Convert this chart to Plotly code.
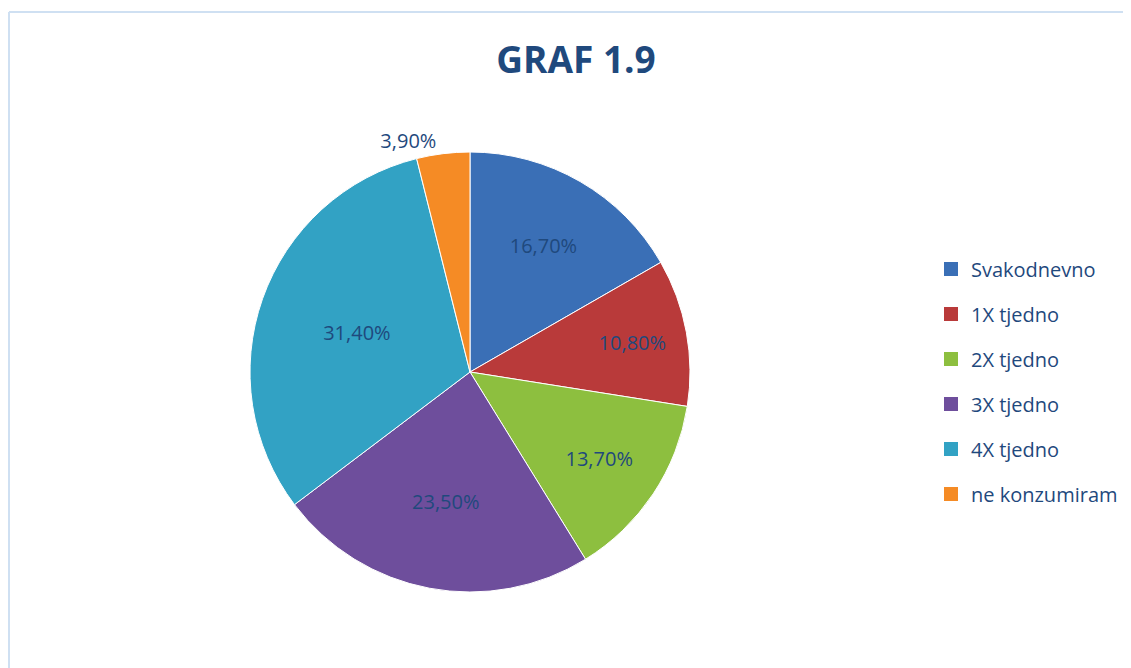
import plotly.graph_objects as go

categories = ["Svakodnevno", "1X tjedno", "2X tjedno", "3X tjedno", "4X tjedno", "ne konzumiram"]
values = [16.7, 10.8, 13.7, 23.5, 31.4, 3.9]
value_labels = ["16,70%", "10,80%", "13,70%", "23,50%", "31,40%", "3,90%"]
colors = ["#3A6FB6", "#B93A3A", "#8DBF3F", "#6E4E9C", "#32A2C4", "#F58B25"]

text_color = "#1F497D"
W, H = 1131, 668

fig = go.Figure()

fig.add_trace(go.Pie(
    labels=categories,
    values=values,
    text=value_labels,
    textinfo="text",
    textposition=["inside", "inside", "inside", "inside", "inside", "outside"],
    insidetextorientation="horizontal",
    textfont=dict(family="Open Sans", size=20, color=text_color),
    outsidetextfont=dict(family="Open Sans", size=20, color=text_color),
    insidetextfont=dict(family="Open Sans", size=20, color=text_color),
    marker=dict(colors=colors, line=dict(color="white", width=1)),
    sort=False,
    direction="clockwise",
    rotation=0,
    domain=dict(x=[242 / W, 682 / W], y=[1 - 584 / H, 1 - 144 / H]),
    showlegend=False,
    hoverinfo="label+text",
))

# legend entries (one per category) so spacing matches the reference legend
for name, col in zip(categories, colors):
    fig.add_trace(go.Scatter(
        x=[None], y=[None],
        mode="markers",
        name=name,
        legendgroup=name,
        marker=dict(symbol="square", size=14, color=col),
        showlegend=True,
        hoverinfo="skip",
    ))

fig.update_layout(
    width=W,
    height=H,
    paper_bgcolor="white",
    plot_bgcolor="white",
    margin=dict(l=0, r=0, t=0, b=0, autoexpand=False),
    xaxis=dict(visible=False, range=[0, 1]),
    yaxis=dict(visible=False, range=[0, 1]),
    title=dict(
        text="<b>GRAF 1.9</b>",
        x=568 / W, xanchor="center",
        y=1 - 52 / H, yanchor="middle",
        font=dict(family="Open Sans", size=37, color=text_color),
    ),
    legend=dict(
        x=923 / W, xanchor="left",
        y=1 - 373.5 / H, yanchor="middle",
        font=dict(family="Open Sans", size=20, color=text_color),
        tracegroupgap=16,
        itemwidth=30,
        bgcolor="rgba(0,0,0,0)",
    ),
    shapes=[
        dict(type="line", xref="paper", yref="paper", x0=1 / W, x1=1.0, y0=1 - 4 / H, y1=1 - 4 / H,
             line=dict(color="#CFE0F2", width=2)),
        dict(type="line", xref="paper", yref="paper", x0=1 / W, x1=1 / W, y0=1 - 4 / H, y1=0,
             line=dict(color="#CFE0F2", width=2)),
    ],
)

fig.write_html("out.html")
